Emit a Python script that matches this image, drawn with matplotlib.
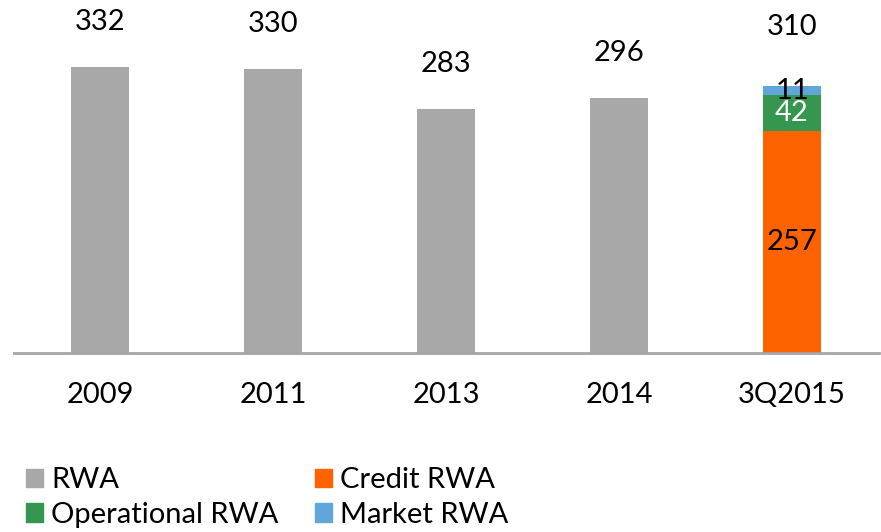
import numpy as np
import matplotlib.pyplot as plt
from matplotlib.patches import Patch

plt.rcParams['font.family'] = ['Lato', 'DejaVu Sans']

years = ["2009", "2011", "2013", "2014", "3Q2015"]
rwa = [332, 330, 283, 296]
credit_rwa = 257
operational_rwa = 42
market_rwa = 11
total_2015 = 310

grey = "#A8A8A8"
orange = "#FF6200"
green = "#34964F"
blue = "#60A6DA"
fs = 21

fig = plt.figure(figsize=(8.81, 5.32), dpi=100)
ax = fig.add_axes([13.5 / 881, 1 - 353 / 532, 865 / 881, 353 / 532])

x = np.arange(len(years))
w = 0.335

ax.bar(x[:4], rwa, width=w, color=grey)
ax.bar(x[4], credit_rwa, width=w, color=orange)
ax.bar(x[4], operational_rwa, width=w, bottom=credit_rwa, color=green)
ax.bar(x[4], market_rwa, width=w, bottom=credit_rwa + operational_rwa, color=blue)

for xi, v in zip(x[:4], rwa):
    ax.annotate(str(v), (xi, v), xytext=(0, 23), textcoords="offset points",
                ha="center", va="bottom", fontsize=fs, annotation_clip=False)
ax.annotate(str(total_2015), (x[4], credit_rwa + operational_rwa + market_rwa),
            xytext=(0, 33), textcoords="offset points",
            ha="center", va="bottom", fontsize=fs, annotation_clip=False)

ax.text(x[4], credit_rwa / 2, str(credit_rwa), ha="center", va="center", fontsize=fs)
ax.text(x[4], credit_rwa + operational_rwa / 2, str(operational_rwa), ha="center",
        va="center", fontsize=fs, color="white")
ax.text(x[4], credit_rwa + operational_rwa + market_rwa / 2, str(market_rwa),
        ha="center", va="center", fontsize=fs)

ax.set_xlim(-0.5, 4.5)
ax.set_ylim(0, 353 / 0.862)
ax.set_xticks(x)
ax.set_xticklabels(years, fontsize=fs)
ax.tick_params(axis="x", length=0, pad=21)
ax.set_yticks([])
for s in ["top", "left", "right"]:
    ax.spines[s].set_visible(False)
ax.spines["bottom"].set_color("#A6A6A6")
ax.spines["bottom"].set_linewidth(2)

handles = [Patch(color=grey, label="RWA"),
           Patch(color=green, label="Operational RWA"),
           Patch(color=orange, label="Credit RWA"),
           Patch(color=blue, label="Market RWA")]
fig.legend(handles=handles, ncol=2, loc="upper left", bbox_to_anchor=(26 / 881, 1 - 467 / 532),
           frameon=False, fontsize=fs, handlelength=0.58, handleheight=0.58,
           handletextpad=0.28, columnspacing=1.25, borderpad=0, borderaxespad=0,
           labelspacing=0.3)

fig.savefig("out.png", dpi=100)
